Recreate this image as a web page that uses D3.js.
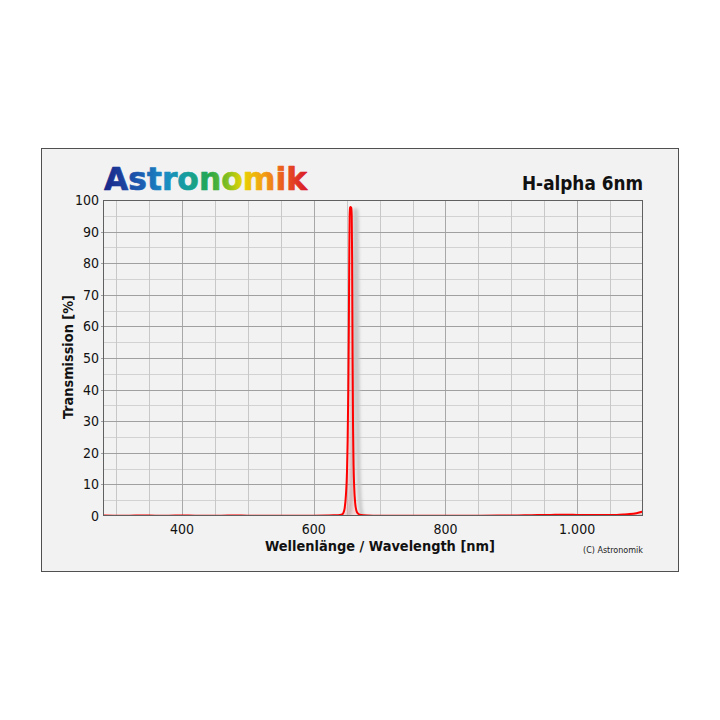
<!DOCTYPE html>
<html><head><meta charset="utf-8">
<script src="https://cdn.jsdelivr.net/npm/d3@7"></script>
<style>html,body{margin:0;padding:0;background:#fff;}svg{display:block;}</style>
</head><body>
<svg id="chart" width="720" height="720"></svg>
<script>
const title = "H-alpha 6nm";
const brand = "Astronomik";
const xLabel = "Wellenlänge / Wavelength [nm]";
const yLabel = "Transmission [%]";
const copyright = "(C) Astronomik";
const xDomain = [280, 1100];
const yDomain = [0, 100];
const xTickValues = [400, 600, 800, 1000];
const xTickLabels = ["400", "600", "800", "1.000"];
const yTickValues = [0,10,20,30,40,50,60,70,80,90,100];
const wavelengths = [280,300,320,340,360,380,400,420,440,460,480,500,520,540,560,580,600,620,630,640,643,645,647,649,650.5,651.5,652.5,653.3,654,654.5,655.2,656,657,657.7,658.3,659,659.7,660.5,661.5,663,665,667,670,675,690,720,760,800,840,880,920,940,960,980,1000,1020,1040,1060,1070,1080,1090,1100];
const transmission = [0.15,0.1,0.1,0.15,0.1,0.1,0.15,0.1,0.1,0.1,0.15,0.1,0.1,0.1,0.1,0.1,0.1,0.15,0.2,0.3,0.5,1.0,2.5,7,14,24,40,60,84,95,97.6,97.8,97.5,95,82,50,28,16,9,4,1.6,0.8,0.4,0.2,0.1,0.1,0.1,0.1,0.1,0.15,0.2,0.3,0.35,0.4,0.35,0.3,0.3,0.35,0.45,0.6,0.9,1.4];

const svg = d3.select("#chart");
const frame = {x:41.5, y:148.5, w:637, h:423};
const m = {left:103, right:643, top:200, bottom:516};

svg.append("rect").attr("x",frame.x).attr("y",frame.y).attr("width",frame.w).attr("height",frame.h)
  .attr("fill","#f2f2f2").attr("stroke","#505050").attr("stroke-width",1);

const x = d3.scaleLinear().domain(xDomain).range([m.left, m.right]);
const y = d3.scaleLinear().domain(yDomain).range([m.bottom, m.top]);

const defs = svg.append("defs");
const grad = defs.append("linearGradient").attr("id","brandGrad").attr("x1","0").attr("x2","1").attr("y1","0").attr("y2","0");
[[0,"#1a2688"],[0.16,"#1d55ad"],[0.3,"#1a8cc4"],[0.42,"#16a096"],[0.52,"#27a84a"],[0.6,"#7cbd22"],[0.68,"#e8d400"],[0.78,"#f2a114"],[0.88,"#ea5a20"],[1,"#d8182a"]]
  .forEach(([o,c]) => grad.append("stop").attr("offset",o).attr("stop-color",c));
const blur = defs.append("filter").attr("id","shadow").attr("x","-50%").attr("y","-10%").attr("width","200%").attr("height","120%");
blur.append("feGaussianBlur").attr("stdDeviation",1.5);

// grid
const g = svg.append("g");
const yMinor = d3.range(5, 100, 10);
g.selectAll(".ymin").data(yMinor).join("line")
  .attr("x1",m.left).attr("x2",m.right).attr("y1",d=>Math.round(y(d))+0.5).attr("y2",d=>Math.round(y(d))+0.5)
  .attr("stroke","#d2d2d2").attr("stroke-width",1);
const xGrid = d3.range(300, 1100, 50);
g.selectAll(".xg").data(xGrid).join("line")
  .attr("y1",m.top).attr("y2",m.bottom).attr("x1",d=>Math.round(x(d))+0.5).attr("x2",d=>Math.round(x(d))+0.5)
  .attr("stroke",d=> d%200===0 ? "#a8a8a8" : "#c8c8c8").attr("stroke-width",1);
g.selectAll(".ymaj").data(yTickValues.filter(d=>d>0&&d<100)).join("line")
  .attr("x1",m.left-2).attr("x2",m.right).attr("y1",d=>Math.round(y(d))+0.5).attr("y2",d=>Math.round(y(d))+0.5)
  .attr("stroke","#a0a0a0").attr("stroke-width",1);

// data
const data = wavelengths.map((w,i)=>({w, t:transmission[i]}));
const line = d3.line().x(d=>x(d.w)).y(d=>y(d.t)).curve(d3.curveMonotoneX);
const area = d3.area().x(d=>x(d.w)).y0(y(0)).y1(d=>y(d.t)).curve(d3.curveMonotoneX);
const clip = defs.append("clipPath").attr("id","plotclip");
clip.append("rect").attr("x",m.left).attr("y",m.top).attr("width",m.right-m.left).attr("height",m.bottom-m.top);
const pg = svg.append("g").attr("clip-path","url(#plotclip)");
pg.append("path").datum(data).attr("d",line).attr("fill","none").attr("stroke","#c4c4c4").attr("stroke-width",4)
  .attr("transform","translate(5,3)").attr("filter","url(#shadow)").attr("opacity",0.9);
pg.append("path").datum(data).attr("d",area).attr("fill","rgba(255,60,60,0.13)");
pg.append("path").datum(data).attr("d",line).attr("fill","none").attr("stroke","#ff0000").attr("stroke-width",2);

// plot border
svg.append("rect").attr("x",m.left+0.5).attr("y",m.top+0.5).attr("width",m.right-m.left-1).attr("height",m.bottom-m.top-1)
  .attr("fill","none").attr("stroke","#606060").attr("stroke-width",1);

const font = "'DejaVu Sans Condensed','DejaVu Sans',sans-serif";
svg.selectAll(".ytl").data(yTickValues).join("text")
  .attr("x",99).attr("y",d=>y(d)+5).attr("text-anchor","end")
  .attr("font-family",font).attr("font-size",14).attr("fill","#111").text(d=>d);
svg.selectAll(".xtl").data(xTickValues).join("text")
  .attr("x",d=>x(d)).attr("y",534).attr("text-anchor","middle")
  .attr("font-family",font).attr("font-size",14).attr("fill","#111").text((d,i)=>xTickLabels[i]);

svg.append("text").attr("x",380).attr("y",551).attr("text-anchor","middle")
  .attr("font-family",font).attr("font-weight","bold").attr("font-size",14).attr("fill","#111")
  .attr("textLength",230).attr("lengthAdjust","spacingAndGlyphs").text(xLabel);
svg.append("text").attr("transform","translate(73,357) rotate(-90)").attr("text-anchor","middle")
  .attr("font-family",font).attr("font-weight","bold").attr("font-size",14).attr("fill","#111")
  .attr("textLength",124).attr("lengthAdjust","spacingAndGlyphs").text(yLabel);
svg.append("text").attr("x",643).attr("y",553).attr("text-anchor","end")
  .attr("font-family",font).attr("font-size",9).attr("fill","#222")
  .attr("textLength",60).attr("lengthAdjust","spacingAndGlyphs").text(copyright);
svg.append("text").attr("x",643).attr("y",190).attr("text-anchor","end")
  .attr("font-family",font).attr("font-weight","bold").attr("font-size",20).attr("fill","#111")
  .attr("textLength",121).attr("lengthAdjust","spacingAndGlyphs").text(title);
svg.append("text").attr("x",104).attr("y",190).attr("text-anchor","start")
  .attr("font-family","'DejaVu Sans','Verdana',sans-serif").attr("font-weight","bold").attr("font-size",32)
  .attr("fill","url(#brandGrad)").attr("stroke","url(#brandGrad)").attr("stroke-width",0.7).attr("stroke-linejoin","round")
  .attr("textLength",203).attr("lengthAdjust","spacingAndGlyphs").text(brand);
</script>
</body></html>
